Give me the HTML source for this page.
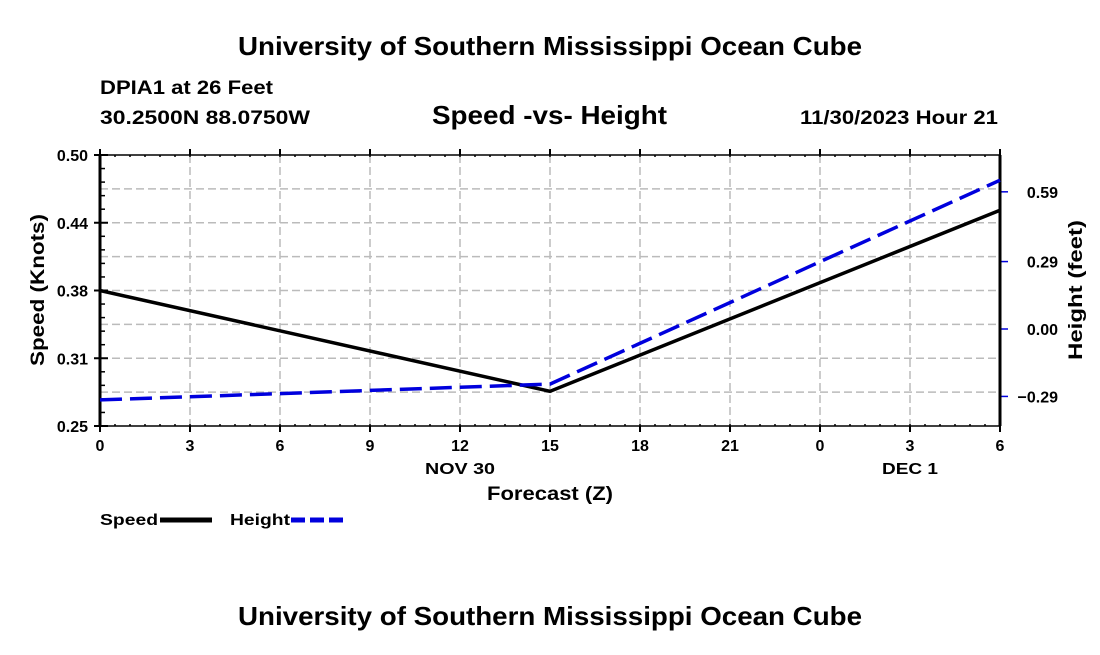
<!DOCTYPE html>
<html><head><meta charset="utf-8"><style>
body{margin:0;background:#fff;width:1100px;height:650px;overflow:hidden;font-family:"Liberation Sans",sans-serif}
text{font-family:"Liberation Sans",sans-serif;font-weight:bold}
</style></head><body>
<svg id="chart" width="1100" height="650">
<text x="550" y="55" text-anchor="middle" font-size="26" textLength="624" lengthAdjust="spacingAndGlyphs">University of Southern Mississippi Ocean Cube</text>
<text x="100" y="94" font-size="19" textLength="173" lengthAdjust="spacingAndGlyphs">DPIA1 at 26 Feet</text>
<text x="100" y="124" font-size="19" textLength="210" lengthAdjust="spacingAndGlyphs">30.2500N  88.0750W</text>
<text x="432" y="124" font-size="26" textLength="235" lengthAdjust="spacingAndGlyphs">Speed -vs- Height</text>
<text x="800" y="124" font-size="19" textLength="198" lengthAdjust="spacingAndGlyphs">11/30/2023 Hour 21</text>
<text x="550" y="625" text-anchor="middle" font-size="26" textLength="624" lengthAdjust="spacingAndGlyphs">University of Southern Mississippi Ocean Cube</text>
<g id="grid"></g><g id="axes"></g><g id="series"></g>
<text x="487" y="500" font-size="19" textLength="126" lengthAdjust="spacingAndGlyphs">Forecast (Z)</text>
<text x="425" y="474" font-size="16" textLength="70" lengthAdjust="spacingAndGlyphs">NOV 30</text>
<text x="882" y="474" font-size="16" textLength="56" lengthAdjust="spacingAndGlyphs">DEC 1</text>
<text transform="translate(44,290) rotate(-90)" text-anchor="middle" font-size="19" textLength="152" lengthAdjust="spacingAndGlyphs">Speed (Knots)</text>
<text transform="translate(1082,290) rotate(-90)" text-anchor="middle" font-size="19" textLength="140" lengthAdjust="spacingAndGlyphs">Height (feet)</text>
<g><text x="100" y="525" font-size="16" textLength="58" lengthAdjust="spacingAndGlyphs">Speed</text><line x1="160" y1="520" x2="212" y2="520" stroke="#000" stroke-width="5"/></g>
<g><text x="230" y="525" font-size="16" textLength="60" lengthAdjust="spacingAndGlyphs">Height</text><line x1="291" y1="520" x2="343" y2="520" stroke="#0000dd" stroke-width="5" stroke-dasharray="14,5"/></g>
</svg>
<script>
const hours=[0,15,30];
const speed=[0.375,0.282,0.449];
const height=[-0.305,-0.237,0.64];
const xTicks=[0,3,6,9,12,15,18,21,24,27,30];
const xTickLabels=["0","3","6","9","12","15","18","21","0","3","6"];
const leftTicks=[0.25,0.3125,0.375,0.4375,0.5];
const leftTickLabels=["0.25","0.31","0.38","0.44","0.50"];
const rightTicks=[-0.29,0,0.29,0.59];
const rightTickLabels=["\u22120.29","0.00","0.29","0.59"];
const L=100,R=1000,T=155,B=426;
const xs=h=>L+(h-0)/(30-0)*(R-L);
const yl=v=>B-(v-0.25)/(0.5-0.25)*(B-T);
const yr=v=>329-v*232.5;
const NS="http://www.w3.org/2000/svg";
function mk(tag,attrs,parent){const e=document.createElementNS(NS,tag);for(const k in attrs)e.setAttribute(k,attrs[k]);document.getElementById(parent).appendChild(e);return e;}
for(let i=1;i<8;i++){const y=T+i*(B-T)/8;
const g=mk('line',{x1:L,x2:R,y1:y,y2:y,stroke:'#bbb','stroke-width':1.5,'stroke-dasharray':'8,4'},'grid');

}
xTicks.forEach((t,i)=>{const x=xs(t);
if(i>0&&i<xTicks.length-1){const g=mk('line',{x1:x,x2:x,y1:T,y2:B,stroke:'#bbb','stroke-width':1.5,'stroke-dasharray':'8,4'},'grid');

}
const tk=mk('line',{x1:x,x2:x,y1:B,y2:B+6,stroke:'#000','stroke-width':2},'axes');


const tt=mk('line',{x1:x,x2:x,y1:T-6,y2:T,stroke:'#000','stroke-width':2},'axes');


const lb=mk('text',{x:x,y:B+25,'text-anchor':'middle','font-size':16},'axes');lb.textContent=xTickLabels[i];

});
for(let h=0;h<=30;h+=0.5){const x=xs(h);
const m=mk('line',{x1:x,x2:x,y1:T,y2:T+2,stroke:'#000','stroke-width':1.5},'axes');
const m2=mk('line',{x1:x,x2:x,y1:B-2,y2:B,stroke:'#000','stroke-width':1.5},'axes');}
for(let i=0;i<=20;i++){const y=T+i*(B-T)/20;const m=mk('line',{x1:L,x2:L+5,y1:y,y2:y,stroke:'#000','stroke-width':1.5},'axes');}
leftTicks.forEach((v,i)=>{const y=yl(v);
const tk=mk('line',{x1:L-6,x2:L+8,y1:y,y2:y,stroke:'#000','stroke-width':2},'axes');


const lb=mk('text',{x:L-12,y:y+6,'text-anchor':'end','font-size':16},'axes');lb.textContent=leftTickLabels[i];

});
rightTicks.forEach((v,i)=>{const y=yr(v);
const tk=mk('line',{x1:R,x2:R+8,y1:y,y2:y,stroke:'#0000dd','stroke-width':1.5},'axes');


const lb=mk('text',{x:1058,y:y+6,'text-anchor':'end','font-size':16},'axes');lb.textContent=rightTickLabels[i];

});
[[L,T,R,T,1.5],[L,B,R,B,1.5],[L,T,L,B,3],[R,T,R,B,3]].forEach(a=>{const l=mk('line',{x1:a[0],y1:a[1],x2:a[2],y2:a[3],stroke:'#000','stroke-width':a[4]},'axes');

});
const sp=mk('polyline',{points:hours.map((h,i)=>xs(h)+','+yl(speed[i])).join(' '),fill:'none',stroke:'#000','stroke-width':3.5},'series');


const ht=mk('polyline',{points:hours.map((h,i)=>xs(h)+','+yr(height[i])).join(' '),fill:'none',stroke:'#0000dd','stroke-width':3.5,'stroke-dasharray':'22,8'},'series');


</script>
</body></html>
